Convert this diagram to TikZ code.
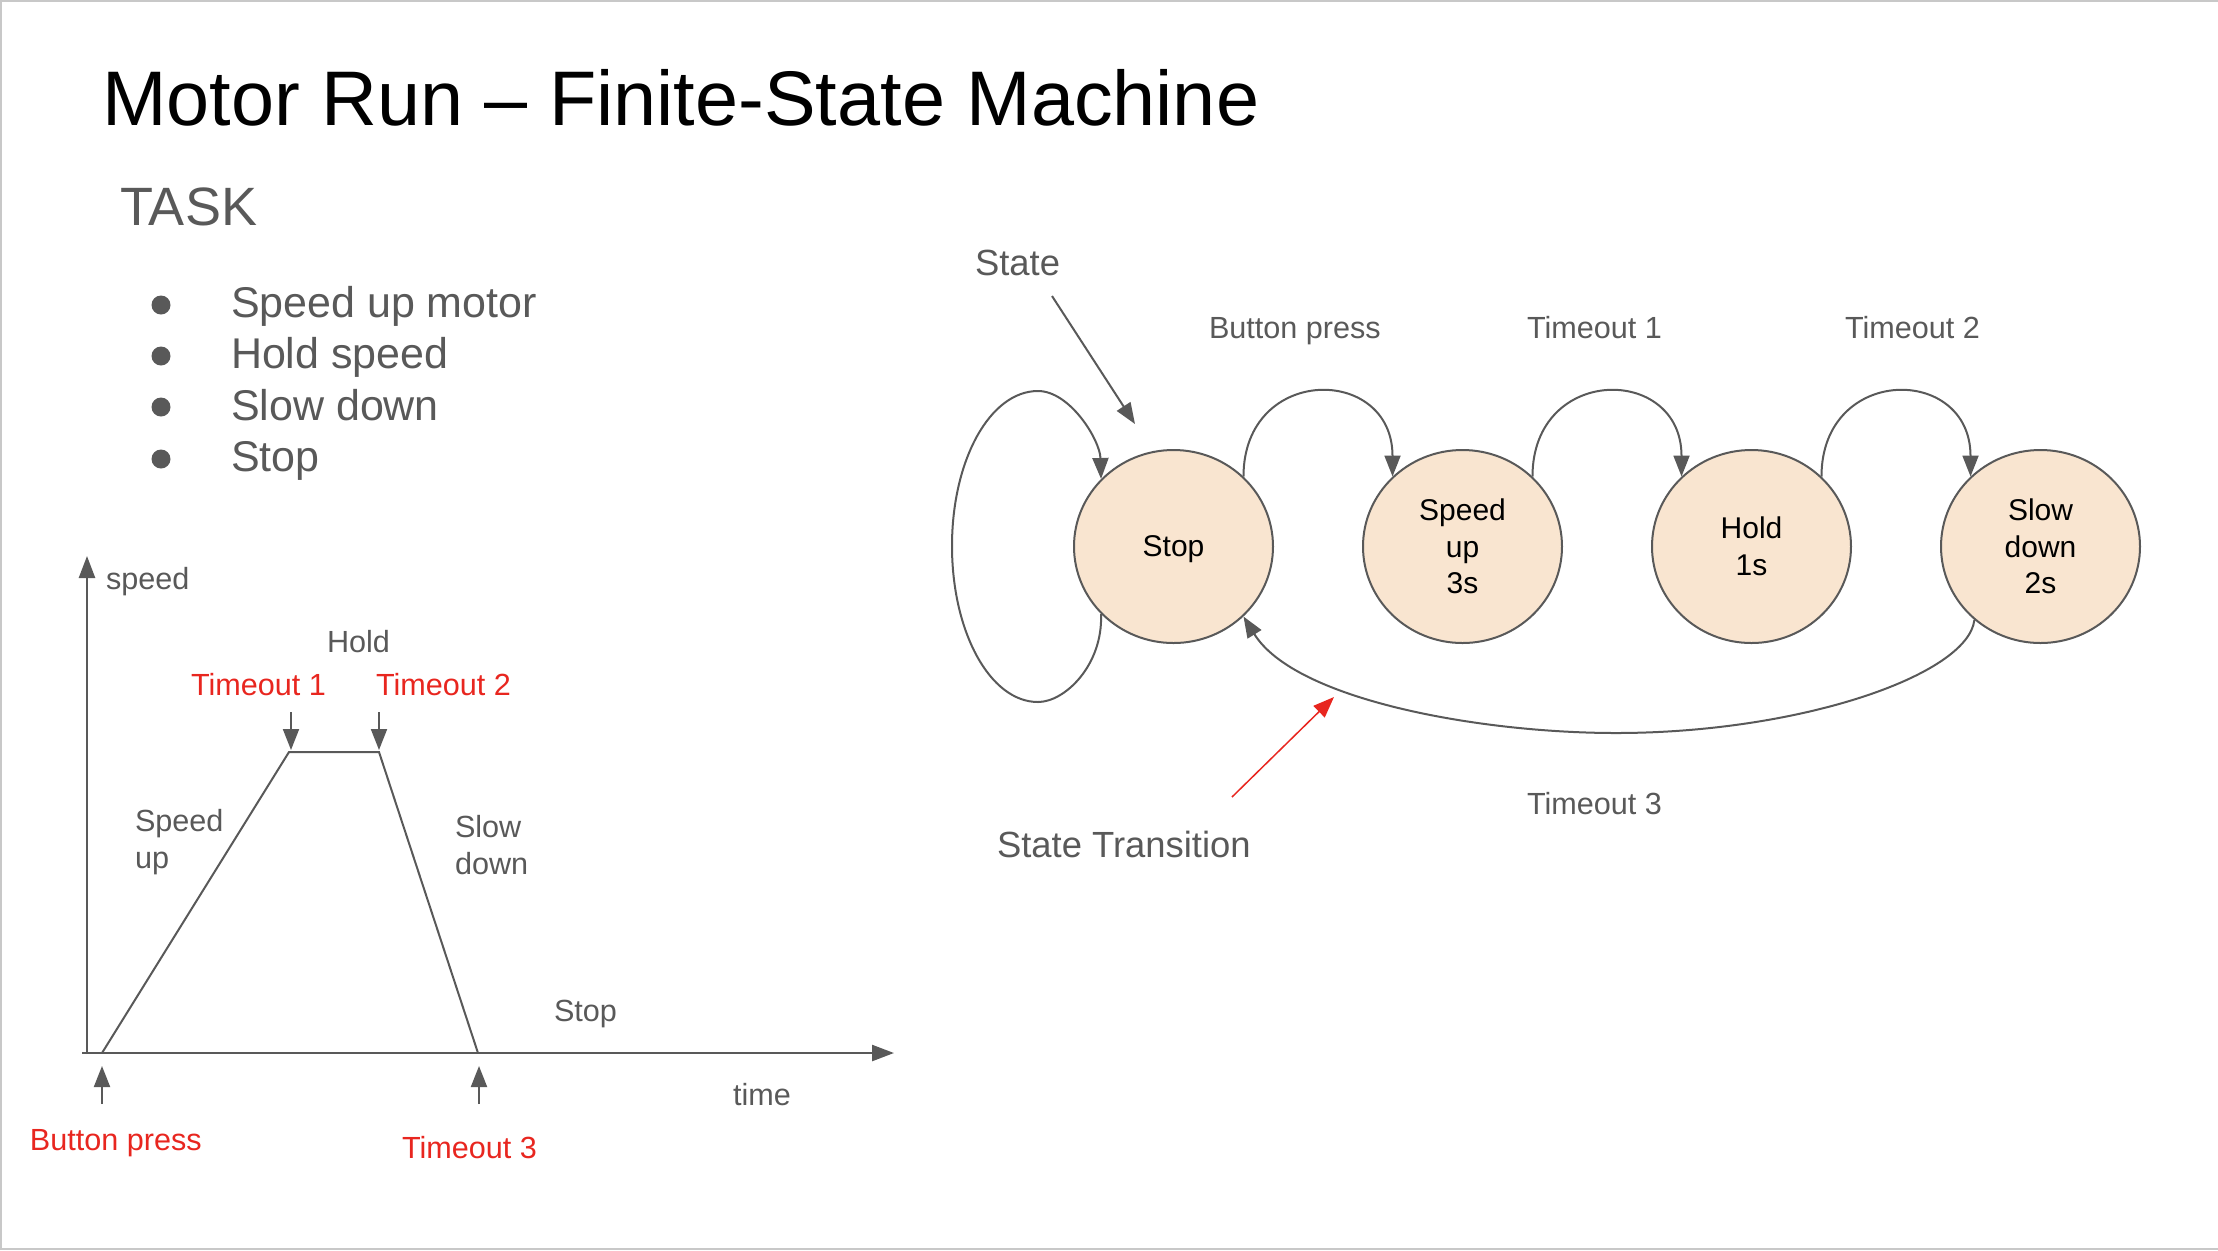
\documentclass[tikz,border=0pt]{standalone}
\usepackage{fontspec}
\setmainfont{Liberation Sans}
\usetikzlibrary{arrows.meta,shapes.geometric}
\definecolor{lg}{HTML}{595959}
\definecolor{rd}{HTML}{E8261F}
\definecolor{peach}{HTML}{F9E5D0}
\definecolor{bord}{HTML}{C8C8C8}
\newcommand{\fsz}[2]{\fontsize{#1}{#2}\selectfont}
\begin{document}
\begin{tikzpicture}[x=0.5pt,y=-0.5pt,
  txt/.style={inner sep=0pt, outer sep=0pt, anchor=base west},
  titlestyle/.style={txt, text=black, font=\fsz{38.7pt}{46pt}},
  taskstyle/.style={txt, text=lg, font=\fsz{27pt}{32pt}},
  bul/.style={txt, text=lg, font=\fsz{21.5pt}{26pt}},
  dot/.style={circle, fill=lg, minimum size=9.5pt, inner sep=0pt},
  lbl/.style={txt, text=lg, font=\fsz{15.3pt}{18.2pt}, align=left},
  rlbl/.style={lbl, text=rd},
  big/.style={txt, text=lg, font=\fsz{18.2pt}{22pt}},
  state/.style={ellipse, draw=lg, line width=1pt, fill=peach, minimum width=99.5pt,
     minimum height=96.5pt, inner sep=0pt, align=center, font=\fsz{15pt}{18.3pt}},
  arr/.style={draw=lg, line width=1pt, -{Triangle[length=10.5pt,width=8pt]}},
  axis/.style={draw=lg, line width=1.25pt, -{Triangle[length=11pt,width=8pt]}},
  curve/.style={draw=lg, line width=1pt}
]
\useasboundingbox (0,0) rectangle (2218,1250);
% frame
\draw[bord, line width=1pt] (1,1250) -- (1,0.5) -- (2218,0.5);
\draw[bord, line width=0.6pt] (0,1249) -- (2218,1249);

% title and task list
\node[titlestyle] (ttl) at (102,125) {Motor Run – Finite-State Machine};
\node[taskstyle] (task) at (120,225) {TASK};
\node[dot] (b1) at (161,305) {};
\node[dot] (b2) at (161,356) {};
\node[dot] (b3) at (161,407) {};
\node[dot] (b4) at (161,459) {};
\node[bul] (t1) at (231,317) {Speed up motor};
\node[bul] (t2) at (231,368) {Hold speed};
\node[bul] (t3) at (231,420) {Slow down};
\node[bul] (t4) at (231,471) {Stop};

% speed-time graph
\coordinate (O) at (87,1054);
\coordinate (ytip) at (87,556);
\coordinate (xstart) at (82,1053);
\coordinate (xtip) at (894,1053);
\draw[axis] (O) -- (ytip);
\draw[axis] (xstart) -- (xtip);
\coordinate (p0) at (102,1053);
\coordinate (p1) at (289,752);
\coordinate (p2) at (379,752);
\coordinate (p3) at (478,1053);
\draw[curve] (p0) -- (p1) -- (p2) -- (p3);
\coordinate (d1s) at (291,712); \coordinate (d1e) at (291,750);
\coordinate (d2s) at (379,712); \coordinate (d2e) at (379,750);
\coordinate (u1s) at (102,1104); \coordinate (u1e) at (102,1066);
\coordinate (u2s) at (479,1104); \coordinate (u2e) at (479,1066);
\draw[arr] (d1s) -- (d1e);
\draw[arr] (d2s) -- (d2e);
\draw[arr] (u1s) -- (u1e);
\draw[arr] (u2s) -- (u2e);

\node[lbl] (gspeed) at (106,589) {speed};
\node[lbl] (ghold) at (327,652) {Hold};
\node[rlbl] (gt1) at (191,695) {Timeout 1};
\node[rlbl] (gt2) at (376,695) {Timeout 2};
\node[lbl] (gsu) at (135,868) {Speed\\up};
\node[lbl] (gsd) at (455,874) {Slow\\down};
\node[lbl] (gstop) at (554,1021) {Stop};
\node[lbl] (gtime) at (733,1105) {time};
\node[rlbl] (gbp) at (30,1150) {Button press};
\node[rlbl] (gt3) at (402,1158) {Timeout 3};

% state machine
\node[state, text depth=0pt] (st) at (1173.5,546.5) {Stop};
\node[state] (su) at (1462.5,546.5) {Speed\\up\\3s};
\node[state] (ho) at (1751.5,546.5) {Hold\\1s};
\node[state] (sd) at (2040.5,546.5) {Slow\\down\\2s};

\node[big] (lstate) at (975,275) {State};
\node[lbl] (lbp) at (1209,338.5) {Button press};
\node[lbl] (lt1) at (1527,338.5) {Timeout 1};
\node[lbl] (lt2) at (1845,338.5) {Timeout 2};
\node[lbl] (lt3) at (1527,814) {Timeout 3};
\node[big] (ltr) at (997,857) {State Transition};

\draw[arr] (st.45) .. controls +(0,-112) and +(0,-112) .. (su.135);
\draw[arr] (su.45) .. controls +(0,-112) and +(0,-112) .. (ho.135);
\draw[arr] (ho.45) .. controls +(0,-112) and +(0,-112) .. (sd.135);

% self loop on Stop
\coordinate (lb) at (1038,702);
\coordinate (ll) at (952,546);
\coordinate (lt) at (1038,391);
\draw[arr] (st.223) .. controls (1103,665) and (1065,702) .. (lb)
  .. controls (990,702) and (952,632) .. (ll)
  .. controls (952,460) and (990,391) .. (lt)
  .. controls (1070,391) and (1100,440) .. (st.137);

% timeout 3 return
\coordinate (rbot) at (1616,733);
\draw[arr] (sd.228) .. controls (1968,675) and (1800,733) .. (rbot)
  .. controls (1480,733) and (1295,700) .. (st.315);

% annotation arrows
\coordinate (sa) at (1052,296);
\coordinate (sb) at (1135,424);
\draw[arr] (sa) -- (sb);
\coordinate (ra) at (1232,797);
\coordinate (rb) at (1334,697);
\draw[arr, draw=rd, line width=0.75pt] (ra) -- (rb);
\end{tikzpicture}
\end{document}
